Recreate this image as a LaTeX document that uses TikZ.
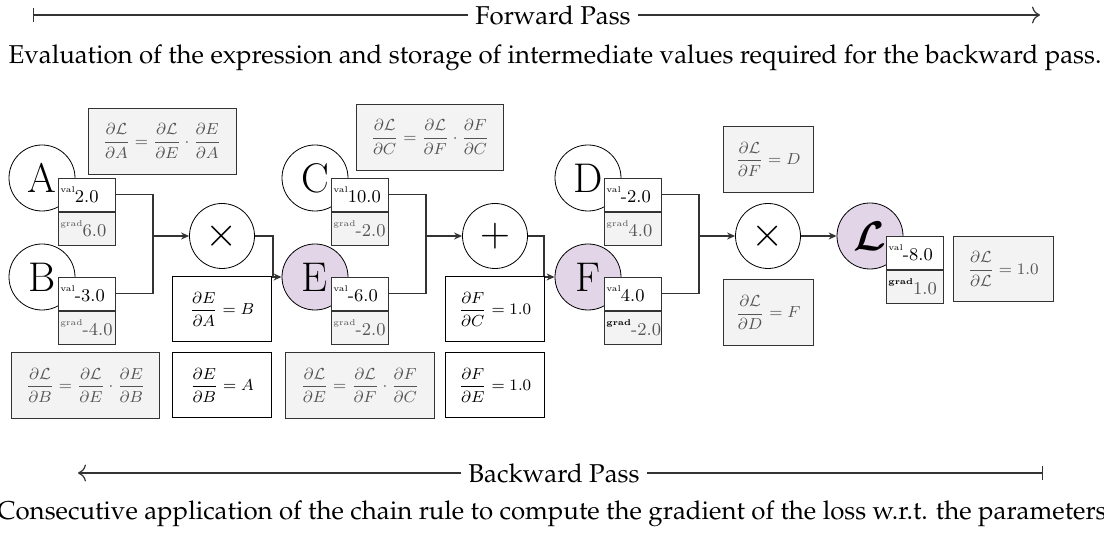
\documentclass[tikz,border=0pt]{standalone}
\usepackage{amsmath,amssymb}
\usepackage{tikz}
\usetikzlibrary{arrows.meta,positioning,calc}
\definecolor{resfill}{HTML}{E1D5E7}
\definecolor{gradfill}{HTML}{F3F3F3}
\definecolor{gradtext}{HTML}{555555}
\definecolor{wirecol}{HTML}{333333}
\newcommand{\palfont}{\fontencoding{OT1}\fontfamily{ppl}\fontsize{12.9}{15}\selectfont}
\newcommand{\vlabel}[2]{\mbox{{\fontsize{4.2}{5}\selectfont\raisebox{5pt}{#1}}#2}}

\begin{document}
\begin{tikzpicture}[
  x=0.5pt,y=-0.5pt,
  var/.style={circle,draw,minimum size=33pt,inner sep=0pt,font=\huge},
  res/.style={var,fill=resfill},
  op/.style={circle,draw,minimum size=32.5pt,inner sep=0pt,font=\huge},
  valbox/.style={rectangle,draw=wirecol,fill=white,text width=26.5pt,inner sep=1pt,
    minimum height=16.5pt,align=left,font=\small,anchor=north west},
  gradbox/.style={valbox,fill=gradfill,text=gradtext,anchor=north},
  chain/.style={rectangle,draw=wirecol,fill=gradfill,text=gradtext,minimum height=33pt,font=\footnotesize},
  local/.style={rectangle,draw,fill=white,minimum height=32.5pt,font=\footnotesize},
  wire/.style={draw=wirecol,line width=0.6pt},
  flow/.style={wire,-{Stealth[length=4pt,width=3.5pt]}},
  pass/.style={font=\palfont,inner sep=3.5pt},
  caption/.style={font=\palfont},
]
  \useasboundingbox (0,0) rectangle (1104,533);

  \node[pass] (fwd) at (553,15) {Forward Pass};
  \coordinate (fwdL) at (33,15);
  \coordinate (fwdR) at (1040,15);
  \draw[wire,{Bar[width=7pt]}-] (fwdL) -- (fwd.west);
  \draw[wire,-{To[length=4pt]}] (fwd.east) -- (fwdR);
  \node[caption] (fwdcap) at (555,58) {Evaluation of the expression and storage of intermediate values required for the backward pass.};

  \node[var] (A) at (42,178) {A};
  \node[valbox] (Aval) at ([xshift=8pt]A.center) {\vlabel{val}{2.0}};
  \node[gradbox] (Agrad) at (Aval.south) {\vlabel{grad}{6.0}};
  \node[var] (B) at (42,277) {B};
  \node[valbox] (Bval) at ([xshift=8pt]B.center) {\vlabel{val}{-3.0}};
  \node[gradbox] (Bgrad) at (Bval.south) {\vlabel{grad}{-4.0}};

  \node[op] (mul1) at (222,236) {$\times$};

  \node[var] (C) at (315,178) {C};
  \node[valbox] (Cval) at ([xshift=8pt]C.center) {\vlabel{val}{10.0}};
  \node[gradbox] (Cgrad) at (Cval.south) {\vlabel{grad}{-2.0}};
  \node[res] (E) at (315,277) {E};
  \node[valbox] (Eval) at ([xshift=8pt]E.center) {\vlabel{val}{-6.0}};
  \node[gradbox] (Egrad) at (Eval.south) {\vlabel{grad}{-2.0}};

  \node[op] (add) at (495,236) {$+$};

  \node[var] (D) at (588,178) {D};
  \node[valbox] (Dval) at ([xshift=8pt]D.center) {\vlabel{val}{-2.0}};
  \node[gradbox] (Dgrad) at (Dval.south) {\vlabel{grad}{4.0}};
  \node[res] (F) at (588,277) {F};
  \node[valbox] (Fval) at ([xshift=8pt]F.center) {\vlabel{val}{4.0}};
  \node[gradbox] (Fgrad) at (Fval.south) {\vlabel{\textcolor{black}{\textbf{grad}}}{-2.0}};

  \node[op] (mul2) at (768,236) {$\times$};

  \node[res] (L) at (870,236) {$\boldsymbol{\mathcal{L}}$};
  \node[valbox] (Lval) at ([xshift=8pt]L.center) {\vlabel{val}{-8.0}};
  \node[gradbox] (Lgrad) at (Lval.south) {\vlabel{\textcolor{black}{\textbf{grad}}}{1.0}};

  \coordinate (jAB) at (153,236);
  \draw[wire] (Aval.east) -| (jAB) |- (Bval.east);
  \draw[flow] (jAB) -- (mul1);
  \draw[flow] (mul1.east) -- ++(18,0) |- (E.west);
  \coordinate (jCE) at (426,236);
  \draw[wire] (Cval.east) -| (jCE) |- (Eval.east);
  \draw[flow] (jCE) -- (add);
  \draw[flow] (add.east) -- ++(16,0) |- (F.west);
  \coordinate (jDF) at (699,236);
  \draw[wire] (Dval.east) -| (jDF) |- (Fval.east);
  \draw[flow] (jDF) -- (mul2);
  \draw[flow] (mul2) -- (L);

  \node[chain,minimum width=74pt] (dLdA) at (162,141)
    {$\displaystyle\frac{\partial\mathcal{L}}{\partial A}=\frac{\partial\mathcal{L}}{\partial E}\cdot\frac{\partial E}{\partial A}$};
  \node[chain,minimum width=73.5pt] (dLdC) at (430,137)
    {$\displaystyle\frac{\partial\mathcal{L}}{\partial C}=\frac{\partial\mathcal{L}}{\partial F}\cdot\frac{\partial F}{\partial C}$};
  \node[chain,minimum width=45pt,above=5.25pt of mul2] (dLdF)
    {$\displaystyle\frac{\partial\mathcal{L}}{\partial F}=D$};
  \node[chain,minimum width=45pt,below=5.25pt of mul2] (dLdD)
    {$\displaystyle\frac{\partial\mathcal{L}}{\partial D}=F$};
  \node[chain,minimum width=50pt,minimum height=32.5pt,anchor=north west] (dLdL) at ([xshift=4.5pt]Lval.north east)
    {$\displaystyle\frac{\partial\mathcal{L}}{\partial\mathcal{L}}=1.0$};

  \node[local,minimum width=49.5pt,below=3.75pt of mul1] (dEdA) {$\displaystyle\frac{\partial E}{\partial A}=B$};
  \node[local,minimum width=49.5pt,below=5pt of dEdA] (dEdB) {$\displaystyle\frac{\partial E}{\partial B}=A$};
  \node[chain,minimum width=74pt,left=6pt of dEdB] (dLdB)
    {$\displaystyle\frac{\partial\mathcal{L}}{\partial B}=\frac{\partial\mathcal{L}}{\partial E}\cdot\frac{\partial E}{\partial B}$};
  \node[chain,minimum width=74.5pt,right=6.5pt of dEdB] (dLdE)
    {$\displaystyle\frac{\partial\mathcal{L}}{\partial E}=\frac{\partial\mathcal{L}}{\partial F}\cdot\frac{\partial F}{\partial C}$};
  \node[local,minimum width=49.5pt,below=3.75pt of add] (dFdC) {$\displaystyle\frac{\partial F}{\partial C}=1.0$};
  \node[local,minimum width=49.5pt,below=5pt of dFdC] (dFdE) {$\displaystyle\frac{\partial F}{\partial E}=1.0$};

  \node[pass] (bwd) at (554,473) {Backward Pass};
  \coordinate (bwdL) at (78,473);
  \coordinate (bwdR) at (1043,473);
  \draw[wire,{To[length=4pt]}-] (bwdL) -- (bwd.west);
  \draw[wire,-{Bar[width=7pt]}] (bwd.east) -- (bwdR);
  \node[caption] (bwdcap) at (552,514) {Consecutive application of the chain rule to compute the gradient of the loss w.r.t. the parameters};
\end{tikzpicture}
\end{document}
